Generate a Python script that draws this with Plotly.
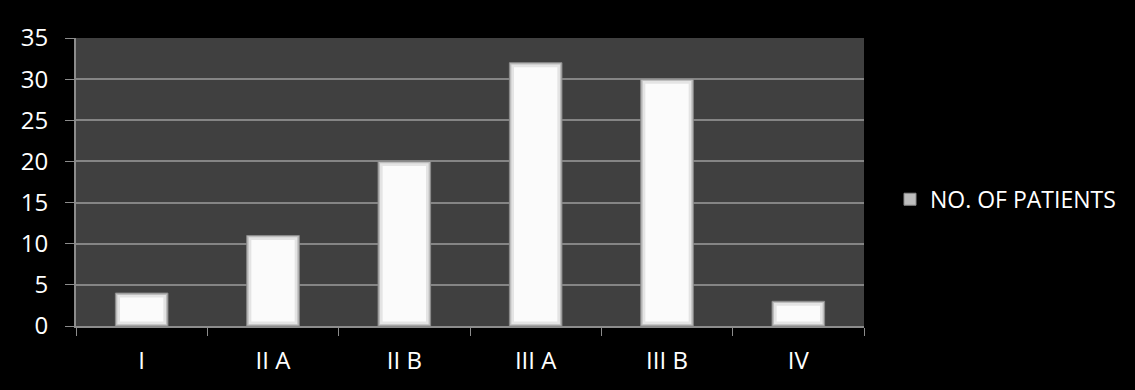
import plotly.graph_objects as go

stages = ["I", "II A", "II B", "III A", "III B", "IV"]
patients = [4, 11, 20, 32, 30, 3]
y_ticks = [0, 5, 10, 15, 20, 25, 30, 35]

bevel = 0.55  # bevel depth in data units for the raised bar look

fig = go.Figure()
# outer bar edge (shaded rim)
fig.add_trace(go.Bar(
    x=stages, y=patients, width=0.4, name="NO. OF PATIENTS",
    marker=dict(color="#bdbdbd", line=dict(color="#8a8a8a", width=1)),
    showlegend=True,
))
# lighter middle ring
fig.add_trace(go.Bar(
    x=stages, y=[v - bevel * 0.8 for v in patients], base=[bevel * 0.4] * len(patients),
    width=0.37, marker=dict(color="#e4e4e4", line=dict(width=0)),
    showlegend=False, hoverinfo="skip",
))
# bright face
fig.add_trace(go.Bar(
    x=stages, y=[v - bevel * 2 for v in patients], base=[bevel] * len(patients),
    width=0.33, marker=dict(color="#fbfbfb", line=dict(width=0)),
    showlegend=False, hoverinfo="skip",
))

fig.update_layout(
    width=1135, height=390,
    barmode="overlay",
    paper_bgcolor="#000000",
    plot_bgcolor="#404040",
    margin=dict(l=76, r=271, t=38, b=64),
    font=dict(family="Open Sans, sans-serif", color="#ffffff", size=22),
    legend=dict(
        x=1.033, y=0.44, xanchor="left", yanchor="middle",
        font=dict(size=23, color="#ffffff"),
        bgcolor="rgba(0,0,0,0)",
        itemwidth=30,
    ),
)
fig.update_xaxes(
    type="category", tickson="boundaries", ticks="outside", ticklen=8,
    tickcolor="#8c8c8c", showline=True, linecolor="#8c8c8c", linewidth=2,
    showgrid=False, tickfont=dict(size=24, color="#ffffff"), ticklabelstandoff=12,
)
fig.update_yaxes(
    range=[0, 35], tickvals=y_ticks, ticks="outside", ticklen=9,
    tickcolor="#8c8c8c", showline=True, linecolor="#8c8c8c", linewidth=2,
    showgrid=True, gridcolor="#858585", gridwidth=2, zeroline=False,
    tickfont=dict(size=24, color="#ffffff"), ticklabelstandoff=12,
)

fig.write_html("out.html")
